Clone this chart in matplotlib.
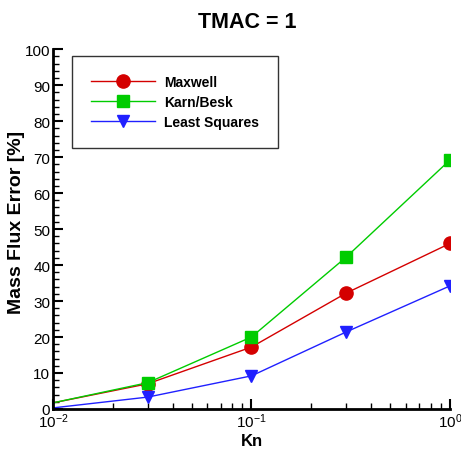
import matplotlib
matplotlib.use("Agg")
import matplotlib.pyplot as plt
from matplotlib.ticker import MultipleLocator, LogLocator, NullFormatter

plt.rcParams['font.family'] = ['Liberation Sans', 'DejaVu Sans']
plt.rcParams['mathtext.fontset'] = 'custom'
plt.rcParams['mathtext.rm'] = 'Liberation Sans'
plt.rcParams['mathtext.it'] = 'Liberation Sans'

kn = [0.01, 0.03, 0.1, 0.3, 1.0]
maxwell = [1.7, 7.0, 17.2, 32.2, 46.0]
karn_besk = [1.7, 7.3, 20.0, 42.2, 69.2]
least_squares = [0.3, 3.3, 9.2, 21.4, 34.2]

fig = plt.figure(figsize=(4.61, 4.52), dpi=100)
ax = fig.add_axes([0.115, 0.093, 0.861, 0.796])

ax.plot(kn, maxwell, color='#d40000', lw=1, marker='o', ms=9.5, markevery=slice(1, None), label='Maxwell')
ax.plot(kn, karn_besk, color='#00cc00', lw=1, marker='s', ms=8, markevery=slice(1, None), label='Karn/Besk')
ax.plot(kn, least_squares, color='#2020ff', lw=1, marker='v', ms=8.5, markevery=slice(1, None), label='Least Squares')

ax.set_xscale('log')
ax.set_xlim(0.01, 1.0)
ax.set_ylim(0, 100)
ax.yaxis.set_major_locator(MultipleLocator(10))
ax.yaxis.set_minor_locator(MultipleLocator(2))
ax.xaxis.set_major_locator(LogLocator(base=10))
ax.xaxis.set_minor_locator(LogLocator(base=10, subs=range(2, 10)))
ax.xaxis.set_minor_formatter(NullFormatter())

for s in ['top', 'right']:
    ax.spines[s].set_visible(False)
for s in ['left', 'bottom']:
    ax.spines[s].set_linewidth(2)

ax.tick_params(which='major', direction='in', length=7, width=1.5, labelsize=11)
ax.tick_params(which='minor', direction='in', length=4, width=1)
ax.tick_params(axis='x', pad=2)
ax.tick_params(axis='y', pad=2)

ax.set_xlabel('Kn', fontsize=12, fontweight='bold', labelpad=2)
ax.set_ylabel('Mass Flux Error [%]', fontsize=14, fontweight='bold')
ax.yaxis.set_label_coords(-0.07, 0.522)
ax.set_title('TMAC = 1', fontsize=15.5, fontweight='bold', pad=16, x=0.489)

leg = ax.legend(loc='upper left', bbox_to_anchor=(0.048, 0.98), frameon=True, fancybox=False,
                edgecolor='black', handlelength=4.6, handletextpad=0.7, borderpad=1.35,
                labelspacing=0.42, prop={'weight': 'bold', 'size': 10}, borderaxespad=0)
leg.get_frame().set_linewidth(1)

fig.savefig('out.png', dpi=100)
